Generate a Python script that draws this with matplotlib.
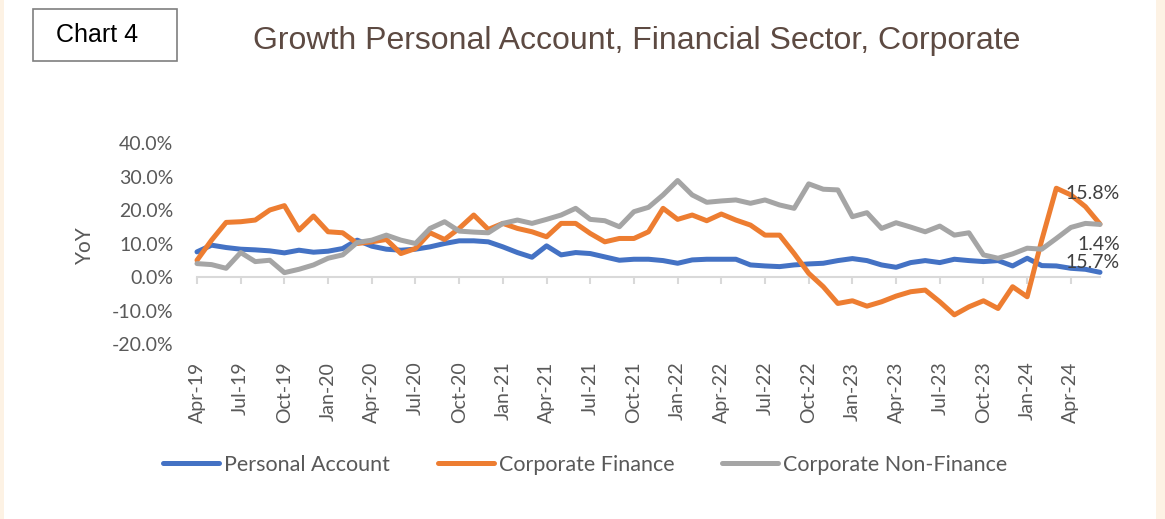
import matplotlib
matplotlib.use("Agg")
import matplotlib.pyplot as plt
from matplotlib.patches import Rectangle
from matplotlib.lines import Line2D
from matplotlib.ticker import PercentFormatter
import pandas as pd

plt.rcParams['font.family'] = ['Lato', 'DejaVu Sans']
plt.rcParams['axes.unicode_minus'] = False

# monthly, Apr-19 .. Jun-24
months = pd.date_range('2019-04-01', periods=63, freq='MS')

personal = [7.5, 9.5, 8.8, 8.3, 8.1, 7.8, 7.2, 8.0, 7.4, 7.7,
            8.5, 11.0, 9.2, 8.3, 8.0, 8.3, 9.0, 10.0, 10.8, 10.8,
            10.5, 9.0, 7.3, 5.9, 9.3, 6.6, 7.3, 7.0, 6.0, 5.0,
            5.3, 5.3, 4.9, 4.1, 5.1, 5.3, 5.3, 5.3, 3.6, 3.3,
            3.1, 3.6, 3.9, 4.1, 4.9, 5.5, 4.9, 3.6, 2.9, 4.3,
            4.9, 4.3, 5.3, 4.9, 4.6, 4.9, 3.3, 5.6, 3.4, 3.3,
            2.6, 2.3, 1.4]

corp_fin = [5.0, 11.0, 16.3, 16.5, 17.0, 20.0, 21.3, 14.0, 18.2, 13.5,
            13.2, 10.0, 10.5, 11.2, 7.0, 8.5, 13.2, 11.2, 14.5, 18.5,
            14.2, 16.0, 14.5, 13.5, 12.0, 16.0, 16.0, 13.0, 10.5, 11.5,
            11.5, 13.5, 20.5, 17.2, 18.5, 16.8, 18.8, 17.0, 15.5, 12.5,
            12.5, 7.0, 1.1, -2.9, -7.9, -7.1, -8.7, -7.4, -5.7, -4.4,
            -3.9, -7.4, -11.3, -8.9, -7.1, -9.4, -2.9, -5.9, 11.0, 26.5,
            24.5, 21.0, 15.8]

corp_nonfin = [4.0, 3.7, 2.6, 7.3, 4.6, 5.0, 1.3, 2.3, 3.6, 5.6,
               6.6, 10.3, 11.0, 12.5, 11.0, 10.0, 14.5, 16.5, 13.7, 13.4,
               13.2, 16.0, 17.0, 16.0, 17.2, 18.5, 20.5, 17.2, 16.8, 15.0,
               19.5, 20.8, 24.5, 28.8, 24.5, 22.3, 22.7, 23.0, 22.0, 23.0,
               21.5, 20.5, 27.8, 26.2, 26.0, 18.0, 19.2, 14.5, 16.2, 14.9,
               13.5, 15.2, 12.5, 13.2, 6.6, 5.6, 6.9, 8.6, 8.3, 11.5,
               14.8, 16.0, 15.7]

series_names = ['Personal Account', 'Corporate Finance', 'Corporate Non-Finance']
colors = ['#4472C4', '#ED7D31', '#A5A5A5']
# where each end label sits relative to the last point (pixels)
label_offsets = [(20, 28), (20, 31), (20, -38)]

W, H = 1165, 519
fig = plt.figure(figsize=(W / 100, H / 100), dpi=100, facecolor='#FDF2E4')
fig.patches.append(Rectangle((4 / W, 0), 1152 / W, 1, transform=fig.transFigure,
                             facecolor='white', edgecolor='none', zorder=-1))

ax = fig.add_axes([197 / W, 1 - 344 / H, 903 / W, 201 / H])
ax.set_facecolor('none')
ax.set_zorder(2)

x = range(len(months))
for vals, c, off in zip([personal, corp_fin, corp_nonfin], colors, label_offsets):
    ax.plot(x, vals, color=c, lw=3.6, solid_joinstyle='round', solid_capstyle='round',
            zorder=3, clip_on=False)
    ax.annotate(f'{vals[-1]:.1f}%', (len(vals) - 1, vals[-1]), xytext=off,
                textcoords='offset pixels', ha='right', va='center',
                fontsize=14, color='#404040', zorder=4)

ax.set_xlim(0, len(months) - 1)
ax.set_ylim(-20, 40)

tick_idx = list(range(0, len(months), 3))
ax.set_xticks(tick_idx)
ax.set_xticklabels([months[i].strftime('%b-%y') for i in tick_idx])
ax.tick_params(axis='x', length=5, width=1.5, color='#D9D9D9', pad=56,
               labelrotation=90, labelsize=14, labelcolor='#595959')

ax.set_yticks(range(-20, 41, 10))
ax.yaxis.set_major_formatter(PercentFormatter(decimals=1))
ax.tick_params(axis='y', length=0, pad=17, labelsize=14, labelcolor='#595959')

for s in ['top', 'right', 'left']:
    ax.spines[s].set_visible(False)
ax.spines['bottom'].set_position(('data', 0))
ax.spines['bottom'].set_color('#D9D9D9')
ax.spines['bottom'].set_linewidth(1.5)
ax.spines['bottom'].set_zorder(1)

fig.text(85 / W, 1 - 245 / H, 'YoY', rotation=90, ha='center', va='center',
         fontsize=15, color='#595959')

handles = [Line2D([0], [0], color=c, lw=3.6, solid_capstyle='round') for c in colors]
fig.legend(handles, series_names, loc='center left', bbox_to_anchor=(163 / W, 1 - 465 / H),
           ncol=3, frameon=False, fontsize=15.5, handlelength=2.6, handletextpad=0.25,
           columnspacing=2.2, borderpad=0, borderaxespad=0, labelcolor='#595959')

# header
fig.patches.append(Rectangle((33 / W, 1 - 61 / H), 144 / W, 52 / H, transform=fig.transFigure,
                             facecolor='white', edgecolor='#7F7F7F', lw=1.2))
fig.text(97 / W, 1 - 35 / H, 'Chart 4', ha='center', va='center', fontsize=18,
         color='black', family=['Liberation Sans', 'DejaVu Sans'])
fig.text(637 / W, 1 - 41 / H, 'Growth Personal Account, Financial Sector, Corporate',
         ha='center', va='center', fontsize=23, color='#5D4A42',
         family=['Liberation Sans', 'DejaVu Sans'])

fig.savefig('out.png', dpi=100, facecolor=fig.get_facecolor())
